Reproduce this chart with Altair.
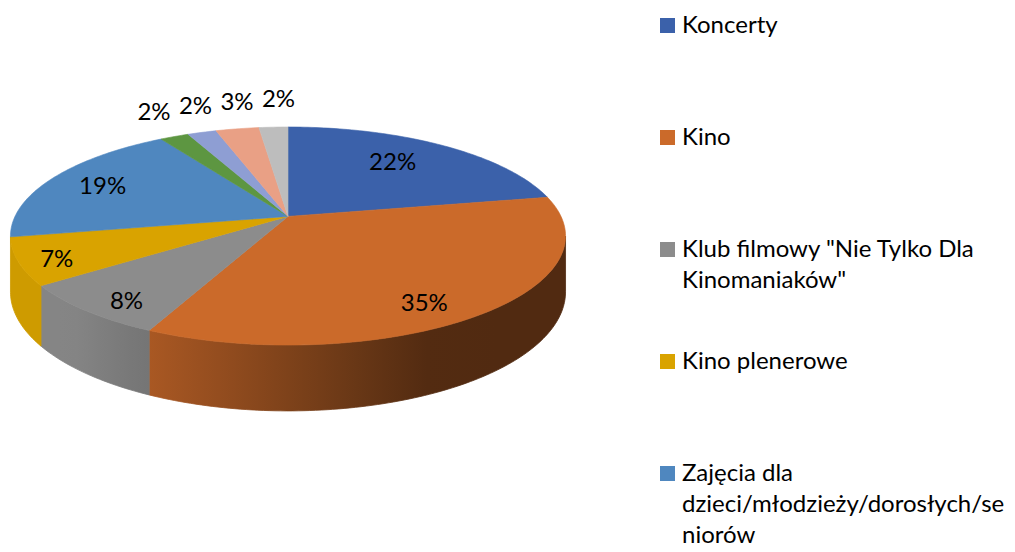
import math
import altair as alt
import pandas as pd

# ---- data ----
categories = [
    "Koncerty",
    "Kino",
    'Klub filmowy "Nie Tylko Dla Kinomaniaków"',
    "Kino plenerowe",
    "Zajęcia dla dzieci/młodzieży/dorosłych/seniorów",
    "Kategoria 6",
    "Kategoria 7",
    "Kategoria 8",
    "Kategoria 9",
]
values = [22, 35, 8, 7, 19, 2, 2, 3, 2]
legend_labels = [
    "Koncerty",
    "Kino",
    'Klub filmowy "Nie Tylko Dla\nKinomaniaków"',
    "Kino plenerowe",
    "Zajęcia dla\ndzieci/młodzieży/dorosłych/se\nniorów",
]
colors = ["#3B61AA", "#CB6A2A", "#8C8C8C", "#D9A300", "#4F87BF",
          "#5D9641", "#8E9ED3", "#E9A085", "#BDBDBD"]

# ---- geometry (style) ----
CX, CY, RX, RY, PERSP, DEPTH = 288.0, 216.4, 273.0, 105.5, 0.18, 54.0
SIL1 = math.degrees(math.acos(-PERSP))
SIL2 = 360.0 - SIL1
FONT = "Lato"
OUT_GAP = 41.5


def proj(theta, r=1.0):
    t = math.radians(theta)
    u = r * math.sin(t)
    v = -r * math.cos(t)
    f = 1.0 / (1.0 - PERSP * v)
    return CX + RX * u * f, CY + RY * v * f, f


def shade(hexcol, fac):
    h = hexcol.lstrip("#")
    rgb = [int(h[i:i + 2], 16) for i in (0, 2, 4)]
    return "#" + "".join(f"{max(0, min(255, int(round(c * fac)))):02x}" for c in rgb)


def side_factor(x):
    return max(0.40, min(0.95, 1.0 - (x - 40.0) * 0.00153))


total = float(sum(values))
bounds = []
acc = 0.0
for v in values:
    a = acc / total * 360.0
    acc += v
    b = acc / total * 360.0
    bounds.append((a, b))

top_rows, side_rows, label_rows, outside = [], [], [], []
side_grad = {}
for i, (a, b) in enumerate(bounds):
    # top face
    pid = f"t{i}"
    top_rows.append(dict(poly=pid, idx=0, x=CX, y=CY, col=colors[i]))
    n = max(2, int(math.ceil(b - a)))
    for k in range(n + 1):
        th = a + (b - a) * k / n
        x, y, _ = proj(th)
        top_rows.append(dict(poly=pid, idx=k + 1, x=x, y=y, col=colors[i]))
    # side wall (one polygon per visible slice)
    lo, hi = max(a, SIL1), min(b, SIL2)
    if hi - lo > 1.0:
        m = max(2, int(math.ceil(hi - lo)))
        pts_top, pts_bot = [], []
        for k in range(m + 1):
            th = lo + (hi - lo) * k / m
            x, y, f = proj(th)
            pts_top.append((x, y))
            pts_bot.append((x, y + DEPTH * f))
        pts = pts_top + pts_bot[::-1]
        for j, (px, py) in enumerate(pts):
            side_rows.append(dict(poly=i, idx=j, x=px, y=py))
        xmin = min(p[0] for p in pts)
        xmax = max(p[0] for p in pts)
        stops = []
        for s in range(7):
            o = s / 6
            stops.append(alt.GradientStop(
                color=shade(colors[i], side_factor(xmin + o * (xmax - xmin))), offset=o))
        side_grad[i] = stops
    # data label
    mid = (a + b) / 2
    t = math.radians(mid)
    u, vv = math.sin(t), -math.cos(t)
    f = 1.0 / (1.0 - PERSP * vv)
    if values[i] >= 5:
        rr = 0.75 + (0.07 if values[i] / total < 0.075 else 0.0)
        lx = CX + RX * u * rr * f - 10
        ly = CY + RY * vv * rr * f + 0.3 * DEPTH * max(0.0, vv) * f
        label_rows.append(dict(x=lx, y=ly, label=f"{values[i]}%"))
    else:
        outside.append([CX + RX * u * f + 5, CY + RY * vv * 1.3 * f, f"{values[i]}%"])

# spread the outside labels so they do not collide (right to left)
outside.sort(key=lambda r: r[0], reverse=True)
for k in range(1, len(outside)):
    outside[k][0] = min(outside[k][0], outside[k - 1][0] - OUT_GAP)
for lx, ly, lab in outside:
    label_rows.append(dict(x=lx, y=ly, label=lab))

leg_sq, leg_txt = [], []
for i, lab in enumerate(legend_labels):
    yc = 25.5 + 112 * i
    leg_sq.append(dict(x=667.5, y=yc, col=colors[i]))
    for j, line in enumerate(lab.split("\n")):
        leg_txt.append(dict(x=682, y=yc + 31 * j, label=line))

top_df = pd.DataFrame(top_rows)
side_df = pd.DataFrame(side_rows)
lab_df = pd.DataFrame(label_rows)
sq_df = pd.DataFrame(leg_sq)
lt_df = pd.DataFrame(leg_txt)

xs = alt.X("x:Q", scale=alt.Scale(domain=[8, 1007], nice=False, zero=False), axis=None)
ys = alt.Y("y:Q", scale=alt.Scale(domain=[8, 552], nice=False, zero=False, reverse=True), axis=None)

layers = []
for i, stops in side_grad.items():
    grad = alt.LinearGradient(gradient="linear", stops=stops, x1=0, x2=1, y1=0, y2=0)
    layers.append(
        alt.Chart(side_df).transform_filter(alt.datum.poly == i)
        .mark_line(interpolate="linear-closed", fill=grad, stroke=grad, strokeWidth=0.8)
        .encode(x=xs, y=ys, order="idx:Q")
    )

tops = alt.Chart(top_df).mark_line(interpolate="linear-closed", strokeWidth=0.6).encode(
    x=xs, y=ys, detail="poly:N", order="idx:Q",
    fill=alt.Fill("col:N", scale=None), stroke=alt.Stroke("col:N", scale=None))

labels = alt.Chart(lab_df).mark_text(font=FONT, fontSize=24, color="#000000",
                                     align="center", baseline="middle").encode(
    x=xs, y=ys, text="label:N")

squares = alt.Chart(sq_df).mark_square(size=225, opacity=1).encode(
    x=xs, y=ys, color=alt.Color("col:N", scale=None))

leg_text = alt.Chart(lt_df).mark_text(font=FONT, fontSize=24, color="#000000",
                                      align="left", baseline="middle").encode(
    x=xs, y=ys, text="label:N")

chart = alt.layer(*layers, tops, labels, squares, leg_text).properties(
    width=999, height=544, padding=0, autosize="none", background="white"
).configure_view(strokeOpacity=0)

chart.save("out.html", embed_options={"renderer": "svg", "actions": False})
